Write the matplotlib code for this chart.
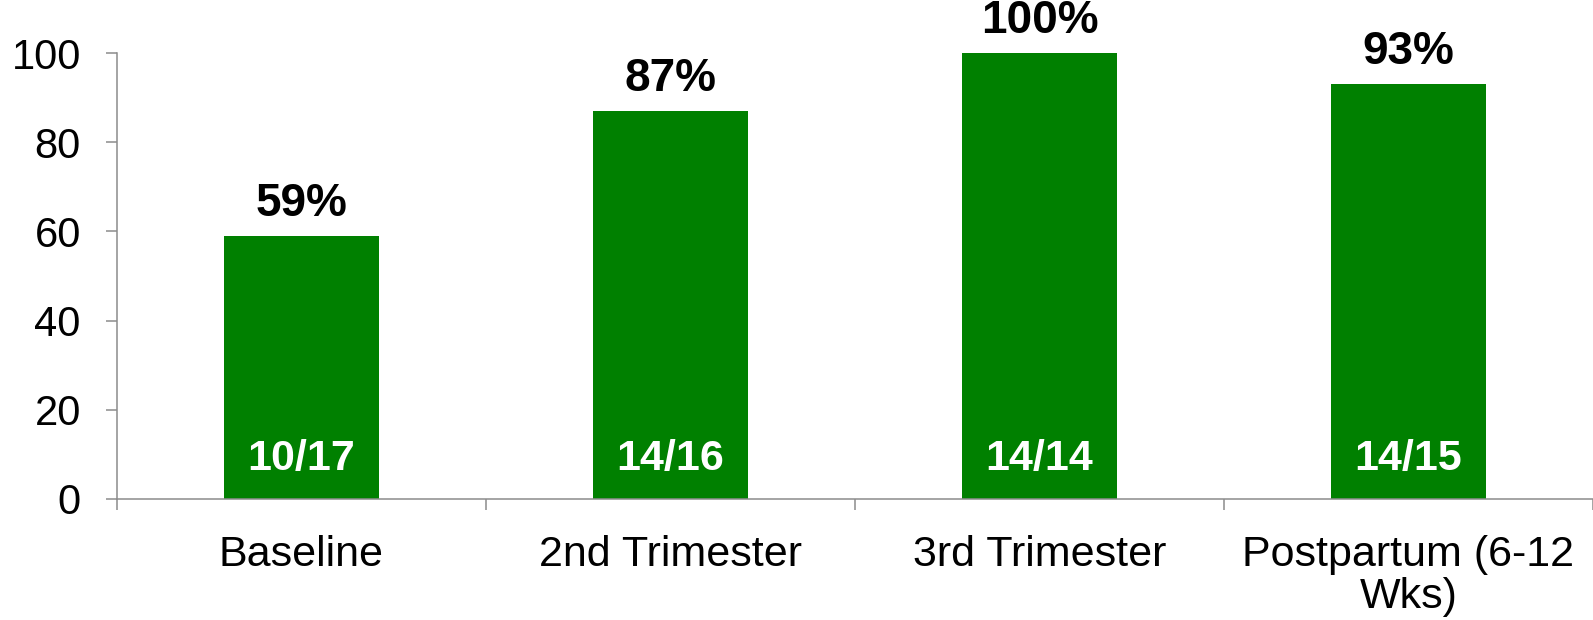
import matplotlib
matplotlib.use("Agg")
import matplotlib.pyplot as plt
import numpy as np

categories = ["Baseline", "2nd Trimester", "3rd Trimester", "Postpartum (6-12\nWks)"]
percent = [59, 87, 100, 93]
counts = ["10/17", "14/16", "14/14", "14/15"]

plt.rcParams["font.family"] = ["Liberation Sans", "DejaVu Sans"]

green = "#008000"
axis_gray = "#8c8c8c"

fig = plt.figure(figsize=(15.93, 6.20), dpi=100)
ax = fig.add_axes([0.0734, 0.1952, 0.9266, 0.7193])

x = np.arange(len(categories))
bars = ax.bar(x, percent, width=0.42, color=green, zorder=2)

for xi, val, cnt in zip(x, percent, counts):
    ax.annotate(f"{val}%", (xi, val), xytext=(0, 14.5), textcoords="offset points",
                ha="center", va="baseline", fontsize=33, fontweight="bold",
                color="black", annotation_clip=False)
    ax.text(xi, 6.5, cnt, ha="center", va="baseline", fontsize=31,
            fontweight="bold", color="white", zorder=3)

ax.set_xlim(-0.5, len(categories) - 0.5)
ax.set_ylim(0, 100)
ax.set_yticks(np.arange(0, 101, 20))

# labels at category centres, tick marks at category boundaries
ax.set_xticks(x)
ax.set_xticklabels(categories, fontsize=31, linespacing=1.05)
ax.set_xticks(np.arange(-0.5, len(categories), 1.0), minor=True)
ax.tick_params(axis="x", which="major", length=0, pad=26)
ax.tick_params(axis="x", which="minor", length=8, width=1.1, color=axis_gray)
ax.tick_params(axis="y", length=8, width=1.1, color=axis_gray, labelsize=30, pad=18)

for side in ("top", "right"):
    ax.spines[side].set_visible(False)
for side in ("left", "bottom"):
    ax.spines[side].set_color(axis_gray)
    ax.spines[side].set_linewidth(1.1)
    ax.spines[side].set_zorder(3)

fig.savefig("out.png", dpi=100)
